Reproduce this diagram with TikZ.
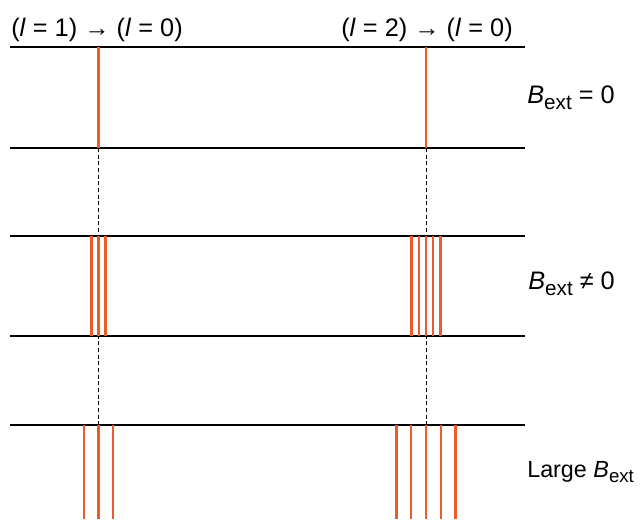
\documentclass[tikz,border=0pt]{standalone}
\usepackage{fontspec}
\setmainfont{Liberation Sans}
\definecolor{lineRed}{RGB}{237,91,45}
\begin{document}
\begin{tikzpicture}[x=0.75pt,y=-0.75pt,
  level/.style={line width=1.6pt,black},
  trans/.style={line width=1.7pt,lineRed},
  guide/.style={line width=0.6pt,black,dash pattern=on 3pt off 2pt},
  lbl/.style={font=\fontsize{19}{22}\selectfont,inner sep=0pt}]
\useasboundingbox (0,0) rectangle (641,519);
% guide lines
\foreach \cx in {98.5,426}{
  \draw[guide] (\cx,148) -- (\cx,425);
}
% levels
\foreach \yy in {47,148,236,336,425}{
  \draw[level] (10,\yy) -- (525,\yy);
}
% B = 0
\draw[trans] (98.5,47) -- (98.5,148);
\draw[trans] (426,47) -- (426,148);
% B != 0
\foreach \dx in {-7,0,7}{\draw[trans] (98.5+\dx,236) -- (98.5+\dx,336);}
\foreach \dx in {-14.6,-7.3,0,7.3,14.6}{\draw[trans] (426+\dx,236) -- (426+\dx,336);}
% large B
\foreach \dx in {-14.7,0,14.7}{\draw[trans] (98.5+\dx,425) -- (98.5+\dx,519);}
\foreach \dx in {-29.4,-14.7,0,14.7,29.4}{\draw[trans] (426+\dx,425) -- (426+\dx,519);}
% labels
\node[lbl,anchor=base] (t1) at (97,36) {(\textit{l} = 1) → (\textit{l} = 0)};
\node[lbl,anchor=base] (t2) at (427,36) {(\textit{l} = 2) → (\textit{l} = 0)};
\node[lbl,anchor=base west] (b1) at (527,103) {\textit{B}\raisebox{-0.45ex}{\fontsize{15.5}{18}\selectfont ext} = 0};
\node[lbl,anchor=base west] (b2) at (528,289) {\textit{B}\raisebox{-0.45ex}{\fontsize{15.5}{18}\selectfont ext} ≠ 0};
\node[lbl,anchor=base west,font=\fontsize{17.5}{20}\selectfont] (b3) at (527,477) {Large \textit{B}\raisebox{-0.45ex}{\fontsize{14}{16}\selectfont ext}};
\end{tikzpicture}
\end{document}
